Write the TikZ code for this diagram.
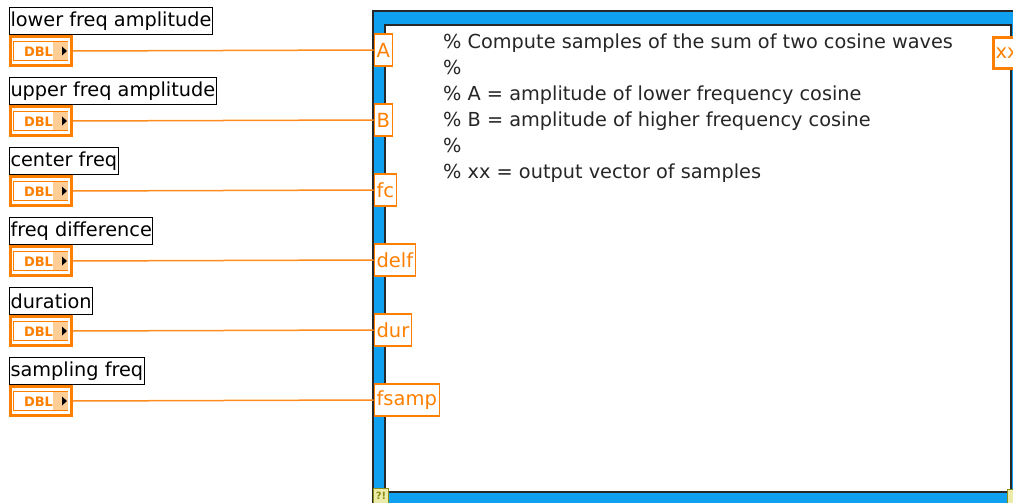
\documentclass[tikz,border=0pt]{standalone}
\usepackage{fontspec}
\setmainfont{DejaVu Sans}
\definecolor{lvorange}{RGB}{255,128,0}
\definecolor{lvwire}{RGB}{255,140,30}
\definecolor{lvlight}{RGB}{255,205,150}
\definecolor{lvblue}{RGB}{16,160,240}
\definecolor{lvdark}{RGB}{40,40,40}
\definecolor{olivebd}{RGB}{140,140,20}
\definecolor{olivefill}{RGB}{235,235,170}
\begin{document}
\begin{tikzpicture}[x=1pt,y=-1pt,
  lbl/.style={draw=black,line width=1pt,anchor=north west,inner xsep=1pt,inner ysep=0pt,
    minimum height=27pt,font=\fontsize{19.3}{20}\selectfont,text=black,fill=white},
  dblbox/.style={draw=lvorange,line width=3pt,minimum width=61pt,minimum height=29pt,inner sep=0pt,fill=white},
  dblin/.style={draw=lvorange,line width=1pt,minimum width=54pt,minimum height=19pt,inner sep=0pt},
  dbltxt/.style={text=lvorange,font=\fontsize{13}{13}\selectfont\bfseries,inner sep=0pt},
  term/.style={draw=lvorange,line width=1.2pt,fill=white,text=lvorange,anchor=west,
    minimum height=32pt,inner xsep=2.5pt,inner ysep=0pt,font=\fontsize{19.5}{20}\selectfont},
  outterm/.style={draw=lvorange,line width=3pt,fill=white,text=lvorange,anchor=west,
    minimum height=31pt,inner xsep=2pt,inner ysep=0pt,font=\fontsize{19.5}{20}\selectfont},
  wire/.style={draw=lvwire,line width=1.5pt},
  warn/.style={draw=olivebd,fill=olivefill,line width=1pt,minimum size=15pt,inner sep=0pt,
    text=olivebd,font=\fontsize{10}{10}\selectfont\bfseries}
]
\useasboundingbox (0,0) rectangle (1013,503);
\clip (0,0) rectangle (1013,503);
% structure frame
\fill[lvblue] (373,11) rectangle (1030,520);
\draw[lvdark,line width=1.5pt] (373,520) -- (373,11) -- (1030,11);
\fill[white] (385,25) rectangle (1011,492);
\draw[lvdark,line width=1.5pt] (385,25) rectangle (1011,492);
% code text
\node[anchor=north west,align=left,inner sep=0pt,text=black!85,
  font=\fontsize{19.3}{26}\selectfont] (code) at (443,34)
  {\% Compute samples of the sum of two cosine waves\\
   \%\\
   \% A = amplitude of lower frequency cosine\\
   \% B = amplitude of higher frequency cosine\\
   \%\\
   \% xx = output vector of samples};
% output terminal
\node[outterm] (xx) at (992,53.5) {xx};
% warning glyphs
\node[warn] (w1) at (381,495.5) {?!};
\node[warn] (w2) at (1015,497) {};
% inputs
\foreach \i/\lab/\tname/\tid in {0/lower freq amplitude/A/tA,
                                 1/upper freq amplitude/B/tB,
                                 2/center freq/fc/tfc,
                                 3/freq difference/delf/tdelf,
                                 4/duration/dur/tdur,
                                 5/sampling freq/fsamp/tfsamp}{
  \node[lbl] (l\i) at (9,{7+70*\i}) {\lab};
  \node[dblbox] (d\i) at (41,{51+70*\i}) {};
  \node[dblin] (di\i) at (40.5,{51+70*\i}) {};
  \fill[lvlight] ([xshift=-15pt,yshift=-9pt]di\i.east) rectangle ([xshift=-0.5pt,yshift=9pt]di\i.east);
  \node[dbltxt] (dt\i) at (38.5,{51.5+70*\i}) {DBL};
  \fill[black] ([xshift=-6pt,yshift=-4.5pt]di\i.east) -- ([xshift=-1pt]di\i.east) -- ([xshift=-6pt,yshift=4.5pt]di\i.east) -- cycle;
  \node[term] (\tid) at (373.5,{50+70*\i}) {\tname};
  \draw[wire] (d\i.east) -- (\tid.west);
}
\end{tikzpicture}
\end{document}
